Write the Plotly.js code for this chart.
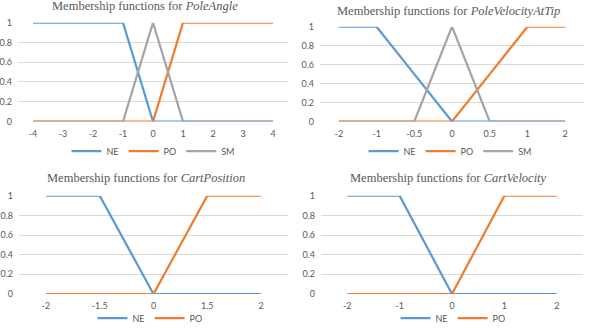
<!DOCTYPE html>
<html>
<head>
<meta charset="utf-8">
<script src="https://cdn.plot.ly/plotly-3.0.1.min.js"></script>
<style>
  html, body { margin: 0; padding: 0; background: #fff; }
  #plot { width: 592px; height: 328px; }
</style>
</head>
<body>
<div id="plot"></div>
<script>
// membership function values, one array per set
let poleAngleX = ["-4", "-3", "-2", "-1", "0", "1", "2", "3", "4"];
let poleAngleNE = [1, 1, 1, 1, 0, 0, 0, 0, 0];
let poleAnglePO = [0, 0, 0, 0, 0, 1, 1, 1, 1];
let poleAngleSM = [0, 0, 0, 0, 1, 0, 0, 0, 0];

let poleVelX = ["-2", "-1", "-0.5", "0", "0.5", "1", "2"];
let poleVelNE = [1, 1, 0.5, 0, 0, 0, 0];
let poleVelPO = [0, 0, 0, 0, 0.5, 1, 1];
let poleVelSM = [0, 0, 0, 1, 0, 0, 0];

let cartPosX = ["-2", "-1.5", "0", "1.5", "2"];
let cartPosNE = [1, 1, 0, 0, 0];
let cartPosPO = [0, 0, 0, 1, 1];

let cartVelX = ["-2", "-1", "0", "1", "2"];
let cartVelNE = [1, 1, 0, 0, 0];
let cartVelPO = [0, 0, 0, 1, 1];

let blue = "#5B9BD5";
let orange = "#ED7D31";
let grey = "#A5A5A5";

function line(x, y, name, color, ax, leg) {
  return {
    x: x, y: y, name: name, type: "scatter", mode: "lines",
    line: {color: color, width: 2.25},
    xaxis: "x" + ax, yaxis: "y" + ax,
    legend: leg, cliponaxis: false
  };
}

let traceData = [
  line(poleAngleX, poleAngleNE, "NE", blue, "", "legend"),
  line(poleAngleX, poleAnglePO, "PO", orange, "", "legend"),
  line(poleAngleX, poleAngleSM, "SM", grey, "", "legend"),
  line(poleVelX, poleVelNE, "NE", blue, "2", "legend2"),
  line(poleVelX, poleVelPO, "PO", orange, "2", "legend2"),
  line(poleVelX, poleVelSM, "SM", grey, "2", "legend2"),
  line(cartPosX, cartPosNE, "NE", blue, "3", "legend3"),
  line(cartPosX, cartPosPO, "PO", orange, "3", "legend3"),
  line(cartVelX, cartVelNE, "NE", blue, "4", "legend4"),
  line(cartVelX, cartVelPO, "PO", orange, "4", "legend4")
];

let W = 592, H = 328;
let tickFont = {family: "Lato, 'Liberation Sans', sans-serif", size: 9, color: "#595959"};

function xax(left, right, n) {
  return {
    domain: [left / W, right / W], type: "category", range: [-0.5, n - 0.5],
    showgrid: false, zeroline: false, showline: false, ticks: "",
    tickfont: tickFont, ticklabelstandoff: 5, fixedrange: true, automargin: false
  };
}
function yax(top, bottom, anchor) {
  return {
    domain: [1 - bottom / H, 1 - top / H], range: [0, 1], dtick: 0.2,
    gridcolor: "#D9D9D9", gridwidth: 1, zeroline: false, showline: false,
    ticks: "", tickfont: tickFont, ticklabelstandoff: 5, anchor: anchor, automargin: false
  };
}
function leg(xc, yc) {
  return {
    orientation: "h", x: xc / W, y: 1 - yc / H, xanchor: "center", yanchor: "middle",
    font: tickFont, bgcolor: "rgba(0,0,0,0)", itemwidth: 30, tracegroupgap: 0,
    borderwidth: 0
  };
}
function title(text, xc, yc) {
  return {
    text: "Membership functions for <i>" + text + "</i>",
    xref: "paper", yref: "paper", x: xc / W, y: 1 - yc / H,
    xanchor: "center", yanchor: "middle", showarrow: false,
    font: {family: "'Liberation Serif', serif", size: 12.5, color: "#595959"}
  };
}

let layout = {
  width: W, height: H,
  margin: {l: 0, r: 0, t: 0, b: 0, autoexpand: false},
  paper_bgcolor: "#fff", plot_bgcolor: "#fff",
  showlegend: true,
  xaxis: xax(18, 288, poleAngleX.length), yaxis: yax(22.7, 121.5, "x"),
  xaxis2: xax(320, 584, poleVelX.length), yaxis2: yax(26.7, 121.5, "x2"),
  xaxis3: xax(19, 288, cartPosX.length), yaxis3: yax(195.7, 294, "x3"),
  xaxis4: xax(321, 583, cartVelX.length), yaxis4: yax(195.7, 294, "x4"),
  legend: leg(153, 151), legend2: leg(450, 151),
  legend3: leg(150, 318), legend4: leg(453, 318),
  annotations: [
    title("PoleAngle", 145, 6.5),
    title("PoleVelocityAtTip", 448, 10.7),
    title("CartPosition", 146, 178),
    title("CartVelocity", 448, 178)
  ]
};
layout.xaxis.anchor = "y";
layout.xaxis2.anchor = "y2";
layout.xaxis3.anchor = "y3";
layout.xaxis4.anchor = "y4";

Plotly.newPlot("plot", traceData, layout, {displayModeBar: false, staticPlot: true});
</script>
</body>
</html>
